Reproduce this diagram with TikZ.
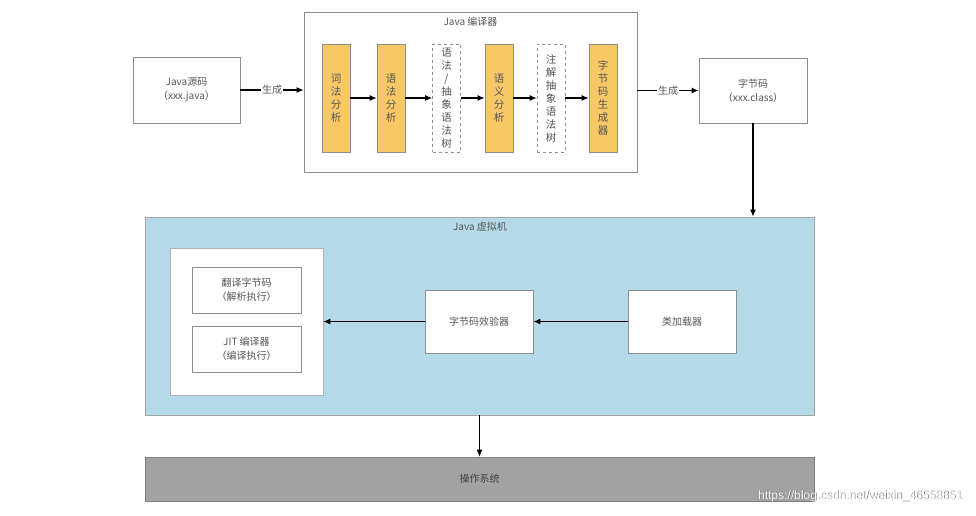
\documentclass[tikz,border=0pt]{standalone}
\usepackage{fontspec}
\setmainfont{Liberation Serif}
\newfontfamily\cjk{Noto Sans CJK SC}
\newfontfamily\urlfont{Liberation Sans}
\usetikzlibrary{arrows.meta}
\definecolor{borderc}{HTML}{8E8E8E}
\definecolor{orangec}{HTML}{F8C866}
\definecolor{bluec}{HTML}{B4D9E8}
\definecolor{osc}{HTML}{A2A2A2}
\definecolor{txtc}{HTML}{555555}
\tikzset{
  box/.style={draw=borderc, line width=0.8pt, fill=white, inner sep=0pt, align=center,
    text=txtc, font=\cjk\fontsize{10}{14}\selectfont},
  stage/.style={box, fill=orangec, minimum width=28pt, minimum height=108pt,
    font=\cjk\fontsize{10.5}{13}\selectfont},
  dstage/.style={stage, fill=white, dashed, draw=borderc},
  flow/.style={-{Latex[length=7pt,width=6pt]}, line width=1.1pt, black},
  lbl/.style={fill=white, inner sep=1pt, text=txtc, font=\cjk\fontsize{10}{12}\selectfont},
}
\begin{document}
\begin{tikzpicture}[x=1pt,y=-1pt]
\useasboundingbox[fill=white] (0,0) rectangle (976,515);
% top row
\node[box, minimum width=107pt, minimum height=66pt] (src) at (186.5,90) {Java源码\\（xxx.java）};
\node[box, minimum width=333pt, minimum height=160pt] (comp) at (470.5,92) {};
\node[text=txtc, font=\cjk\fontsize{10}{12}\selectfont] (comptitle) at (470.5,22) {Java 编译器};
\node[stage] (s1) at (336,98) {词\\法\\分\\析};
\node[stage] (s2) at (391,98) {语\\法\\分\\析};
\node[dstage] (s3) at (446.5,98) {语\\法\\/\\抽\\象\\语\\法\\树};
\node[stage] (s4) at (499,98) {语\\义\\分\\析};
\node[dstage] (s5) at (551,98) {注\\解\\抽\\象\\语\\法\\树};
\node[stage] (s6) at (603,98) {字\\节\\码\\生\\成\\器};
\draw[flow] (s1.east) -- (s2.west);
\draw[flow] (s2.east) -- (s3.west);
\draw[flow] (s3.east) -- (s4.west);
\draw[flow] (s4.east) -- (s5.west);
\draw[flow] (s5.east) -- (s6.west);
\node[box, minimum width=108pt, minimum height=65pt] (bc) at (753,90.5) {字节码\\（xxx.class）};
\draw[flow] (src.east) -- node[lbl] {生成} (src.east -| comp.west);
\draw[flow] (comp.east |- bc.west) -- node[lbl] {生成} (bc.west);
% JVM
\node[box, fill=bluec, draw=borderc!80, minimum width=669pt, minimum height=198pt] (jvm) at (479.5,316) {};
\node[text=txtc, font=\cjk\fontsize{10}{12}\selectfont] (jvmtitle) at (480,227) {Java 虚拟机};
\draw[flow] (bc.south) -- (bc.south |- jvm.north);
\node[box, draw=borderc!70, minimum width=153pt, minimum height=147pt] (exec) at (246.5,321.5) {};
\node[box, minimum width=109pt, minimum height=46pt] (interp) at (246.5,290) {翻译字节码\\（解析执行）};
\node[box, minimum width=109pt, minimum height=46pt] (jit) at (246.5,349) {JIT 编译器\\（编译执行）};
\node[box, minimum width=108pt, minimum height=63pt] (verify) at (479,321.5) {字节码效验器};
\node[box, minimum width=108pt, minimum height=63pt] (loader) at (682,321.5) {类加载器};
\draw[flow] (loader.west) -- (verify.east);
\draw[flow] (verify.west) -- (exec.east |- verify.west);
% OS
\node[box, fill=osc, draw=gray, minimum width=669pt, minimum height=44pt, text=black!75] (os) at (479.5,479) {操作系统};
\draw[-{Latex[length=7pt,width=6pt]}, line width=0.8pt, black] (jvm.south) -- (os.north);
% watermark
\node[anchor=east, text=black!60, font=\urlfont\fontsize{12}{14}\selectfont] (wm0) at (966.6,496.6) {https://blog.csdn.net/weixin\_46558851};
\node[anchor=east, text=white, font=\urlfont\fontsize{12}{14}\selectfont] (wm) at (966,496) {https://blog.csdn.net/weixin\_46558851};
\end{tikzpicture}
\end{document}
